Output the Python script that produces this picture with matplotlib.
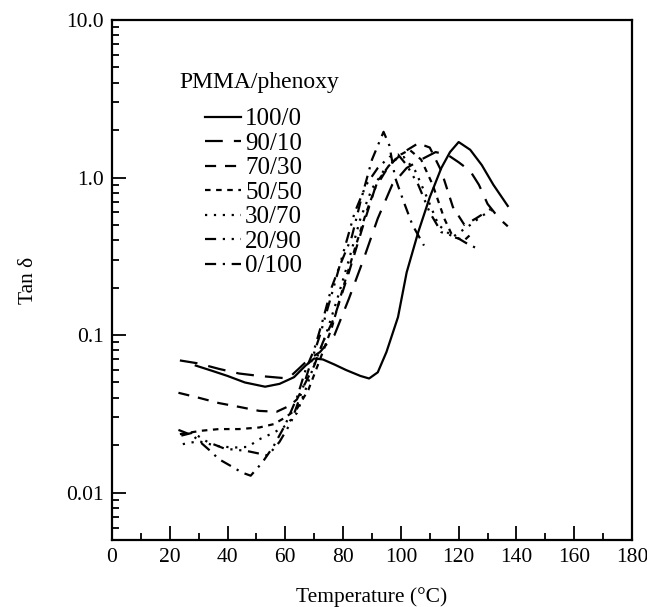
import matplotlib
matplotlib.use('Agg')
from matplotlib import pyplot as plt
from matplotlib.ticker import LogLocator, NullFormatter, MultipleLocator

plt.rcParams['font.family'] = ['Liberation Serif', 'DejaVu Serif']

# tan delta vs temperature for PMMA/phenoxy blends
t_100_0 = [29, 35, 40, 46, 53, 58, 63, 67, 70, 73, 77, 81, 86, 89, 92, 95, 99, 102, 106, 110, 114, 117, 120, 124, 128, 132, 137]
y_100_0 = [0.064, 0.059, 0.055, 0.050, 0.047, 0.049, 0.054, 0.064, 0.071, 0.070, 0.065, 0.060, 0.055, 0.053, 0.058, 0.078,
           0.13, 0.25, 0.45, 0.75, 1.15, 1.45, 1.68, 1.5, 1.2, 0.9, 0.66]

t_90_10 = [23.5, 30, 37, 44, 51, 56, 61, 65, 68, 72, 77, 82, 87, 92, 97, 102, 107, 112, 116, 120, 124, 127, 130, 134, 137]
y_90_10 = [0.069, 0.066, 0.061, 0.057, 0.055, 0.054, 0.053, 0.062, 0.070, 0.078, 0.10, 0.17, 0.30, 0.55, 0.90, 1.15,
           1.3, 1.45, 1.4, 1.25, 1.1, 0.9, 0.68, 0.55, 0.49]

t_70_30 = [23, 30, 37, 44, 51, 57, 61.5, 64, 67, 70, 73, 77, 82, 87, 91, 96, 101, 106, 110, 114, 118, 122, 126, 131]
y_70_30 = [0.043, 0.040, 0.037, 0.035, 0.033, 0.0326, 0.0356, 0.039, 0.050, 0.064, 0.090, 0.13, 0.25, 0.50, 0.85, 1.2,
           1.45, 1.65, 1.55, 1.1, 0.65, 0.5, 0.55, 0.63]

t_50_50 = [23.5, 31, 37, 44, 51, 56, 60, 64, 68, 72, 76, 80, 84, 88, 92, 96, 100, 103, 107, 111, 115, 118, 122, 125]
y_50_50 = [0.0235, 0.0247, 0.0253, 0.0253, 0.0259, 0.0272, 0.030, 0.034, 0.045, 0.070, 0.11, 0.20, 0.35, 0.60, 0.95,
           1.2, 1.4, 1.5, 1.3, 0.9, 0.55, 0.42, 0.40, 0.45]

t_30_70 = [24.5, 30, 36, 42, 47, 51, 56, 60, 64, 67, 70, 74, 78, 82, 86, 90, 94, 98, 101, 105, 109, 113, 118, 124, 128, 132]
y_30_70 = [0.0203, 0.0212, 0.0198, 0.0193, 0.0195, 0.0218, 0.024, 0.0265, 0.032, 0.045, 0.065, 0.10, 0.17, 0.30, 0.55,
           0.85, 1.1, 1.3, 1.35, 1.1, 0.75, 0.5, 0.42, 0.5, 0.57, 0.63]

t_20_90 = [24, 28, 33, 39, 46.5, 54, 58, 62, 65, 68, 72, 76, 80, 84, 88, 92, 96, 99, 102, 106, 110, 114, 119, 123, 127]
y_20_90 = [0.023, 0.024, 0.021, 0.019, 0.0184, 0.0172, 0.021, 0.028, 0.040, 0.060, 0.10, 0.18, 0.33, 0.60, 0.90, 1.15,
           1.35, 1.4, 1.2, 0.9, 0.6, 0.45, 0.42, 0.38, 0.35]

t_0_100 = [23, 28, 34, 37, 41, 45, 48, 52, 56, 60, 64, 67, 70, 73, 76, 79, 83, 86, 90, 94, 96, 98, 101, 104, 108]
y_0_100 = [0.025, 0.023, 0.0184, 0.0163, 0.0148, 0.0134, 0.0128, 0.0155, 0.0198, 0.027, 0.040, 0.060, 0.081, 0.125,
           0.20, 0.28, 0.42, 0.70, 1.3, 1.95, 1.6, 1.0, 0.7, 0.5, 0.37]

labels = ['100/0', '90/10', '70/30', '50/50', '30/70', '20/90', '0/100']
temps = [t_100_0, t_90_10, t_70_30, t_50_50, t_30_70, t_20_90, t_0_100]
tands = [y_100_0, y_90_10, y_70_30, y_50_50, y_30_70, y_20_90, y_0_100]
styles = ['-', (0, (8, 5)), (0, (5, 4)), (0, (2.5, 2.5)), (0, (1, 3)),
          (0, (5, 3, 1, 3, 1, 3)), (0, (5, 3, 1, 3))]

fig = plt.figure(figsize=(6.47, 6.07), dpi=100)
ax = fig.add_axes([112/647, 1 - 540/607, 520/647, 520/607])

for t, y, ls, lab in zip(temps, tands, styles, labels):
    ax.plot(t, y, color='black', linestyle=ls, linewidth=1.6, label=lab)

ax.set_yscale('log')
ax.set_xlim(0, 180)
ax.set_ylim(0.005, 10)
ax.set_yticks([0.01, 0.1, 1, 10], ['0.01', '0.1', '1.0', '10.0'])
ax.yaxis.set_minor_locator(LogLocator(base=10, subs=range(2, 10)))
ax.yaxis.set_minor_formatter(NullFormatter())
ax.xaxis.set_major_locator(MultipleLocator(20))
ax.xaxis.set_minor_locator(MultipleLocator(10))

ax.tick_params(which='both', direction='in', top=False, right=False, labelsize=15.5, width=1.3)
ax.tick_params(which='major', length=10, pad=6)
ax.tick_params(which='minor', length=5)
for s in ax.spines.values():
    s.set_linewidth(1.6)

ax.set_xlabel('Temperature (°C)', fontsize=15.5, labelpad=14)
ax.set_ylabel('Tan δ', fontsize=15.5, labelpad=20)

ax.text(0.13, 0.879, 'PMMA/phenoxy', transform=ax.transAxes, fontsize=17, va='center', ha='left')
ax.legend(loc='upper left', bbox_to_anchor=(0.155, 0.855), frameon=False, fontsize=18,
          handlelength=1.45, handletextpad=0.15, labelspacing=0.08, borderpad=0)

fig.savefig('out.png', dpi=100)
